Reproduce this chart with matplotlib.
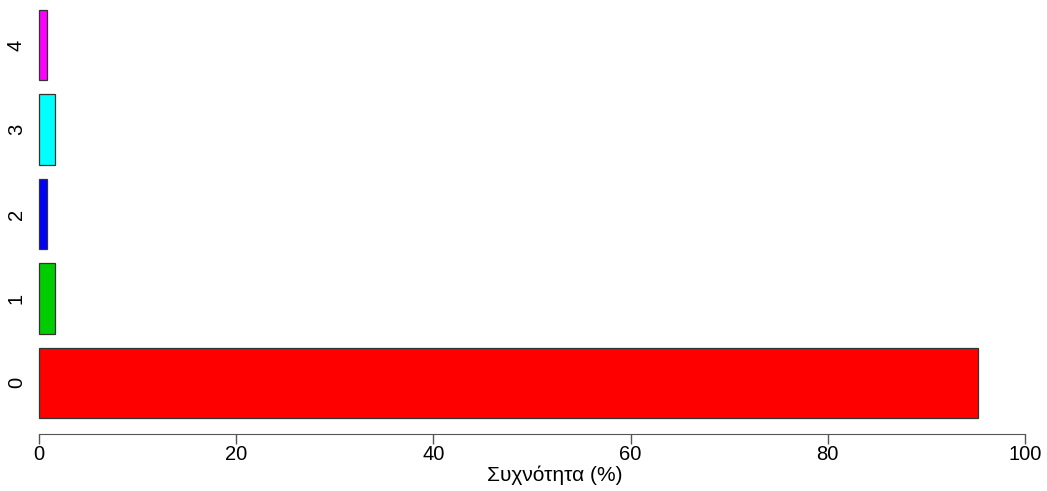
import numpy as np
import matplotlib.pyplot as plt

plt.rcParams['font.family'] = ['Liberation Sans', 'DejaVu Sans']

# data
categories = ['0', '1', '2', '3', '4']
values = [95.2, 1.6, 0.8, 1.6, 0.8]
colors = ['#FF0000', '#00CD00', '#0000FF', '#00FFFF', '#FF00FF']
xticks = [0, 20, 40, 60, 80, 100]

fig = plt.figure(figsize=(10.47, 4.91), dpi=100)
ax = fig.add_axes([30 / 1047, 0.1155, 1 - 30 / 1047, 0.8845])

# R barplot style positions: width 1, space 0.2
pos = 0.7 + 1.2 * np.arange(len(values))
ax.barh(pos, values, height=1.0, color=colors, edgecolor='#333333', linewidth=0.9)

ax.set_xlim(-0.913, 102.23)
ax.set_ylim(-0.032, 6.142)

ax.set_xticks(xticks)
ax.set_xticklabels([str(t) for t in xticks], fontsize=14.5)
ax.set_yticks(pos)
ax.set_yticklabels(categories, rotation=90, fontsize=14.5, va='center')
ax.tick_params(axis='y', length=0, pad=3)
ax.tick_params(axis='x', length=7, color='#555555', width=1, pad=1)

for s in ['top', 'right', 'left']:
    ax.spines[s].set_visible(False)
ax.spines['bottom'].set_bounds(0, 100)
ax.spines['bottom'].set_color('#555555')

ax.set_xlabel('Συχνότητα (%)', fontsize=15, labelpad=1)
ax.xaxis.label.set_x(0.516)

plt.savefig('out.png')
